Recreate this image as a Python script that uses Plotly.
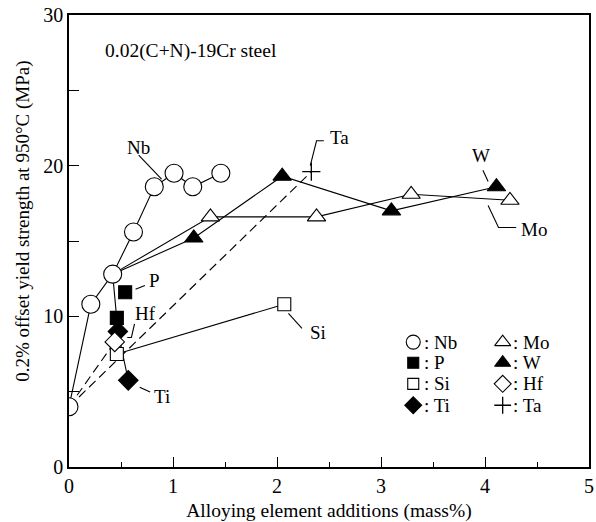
import plotly.graph_objects as go

# ---- data ----
nb_x = [0.0, 0.21, 0.42, 0.62, 0.82, 1.01, 1.19, 1.46]
nb_y = [4.0, 10.8, 12.8, 15.6, 18.6, 19.5, 18.6, 19.5]

mo_x = [0.42, 1.36, 2.38, 3.29, 4.24]
mo_y = [12.8, 16.6, 16.6, 18.1, 17.7]

w_x = [0.42, 1.20, 2.05, 3.10, 4.11]
w_y = [12.8, 15.2, 19.3, 17.0, 18.6]

p_x = [0.46, 0.54]
p_y = [9.9, 11.6]

ti_x = [0.42, 0.47, 0.57]
ti_y = [12.8, 9.0, 5.75]

si_x = [0.46, 2.07]
si_y = [7.5, 10.8]

hf_x = [0.0, 0.44]
hf_y = [4.0, 8.3]

ta_x = [0.0, 2.33]
ta_y = [4.0, 19.6]

FONT = "Liberation Serif, Times New Roman, serif"
BLACK = "black"

fig = go.Figure()

# connecting lines first
line_sets = [
    (nb_x, nb_y, "solid"),
    (mo_x, mo_y, "solid"),
    (w_x, w_y, "solid"),
    (ti_x, ti_y, "solid"),
    (si_x, si_y, "solid"),
    (hf_x, hf_y, "9px,5px"),
    (ta_x, ta_y, "9px,5px"),
]
for xs, ys, dash in line_sets:
    fig.add_trace(go.Scatter(x=xs, y=ys, mode="lines",
                             line=dict(color=BLACK, width=1.1, dash=dash),
                             hoverinfo="skip", showlegend=False))

def mk(symbol, size, fill):
    return dict(symbol=symbol, size=size, color=fill,
                line=dict(color=BLACK, width=1.1))

marker_sets = [
    (si_x, si_y, mk("square", 13, "white")),
    (ti_x[1:], ti_y[1:], mk("diamond", 15, BLACK)),
    (hf_x[1:], hf_y[1:], mk("diamond", 15, "white")),
    (p_x, p_y, mk("square", 13, BLACK)),
    (mo_x[1:], mo_y[1:], mk("triangle-up", 16, "white")),
    (w_x[1:], w_y[1:], mk("triangle-up", 16, BLACK)),
    (nb_x, nb_y, mk("circle", 18, "white")),
    (ta_x[1:], ta_y[1:], dict(symbol="cross-thin-open", size=13, color=BLACK,
                              line=dict(color=BLACK, width=1.3))),
]
for xs, ys, m in marker_sets:
    fig.add_trace(go.Scatter(x=xs, y=ys, mode="markers", marker=m,
                             hoverinfo="skip", showlegend=False))

# hand-drawn style legend
legend_items = [
    ("circle", "white", "Nb", 0), ("square", BLACK, "P", 1),
    ("square", "white", "Si", 2), ("diamond", BLACK, "Ti", 3),
    ("triangle-up", "white", "Mo", 4), ("triangle-up", BLACK, "W", 5),
    ("diamond", "white", "Hf", 6), ("cross-thin-open", BLACK, "Ta", 7),
]
leg_cols = [3.31, 4.17]
leg_rows = [8.29, 6.92, 5.52, 4.10]
sizes = {"circle": 14, "square": 11, "diamond": 13, "triangle-up": 14, "cross-thin-open": 12}
annotations = []
for sym, fill, name, i in legend_items:
    cx = leg_cols[i // 4]
    cy = leg_rows[i % 4]
    fig.add_trace(go.Scatter(x=[cx], y=[cy], mode="markers",
                             marker=dict(symbol=sym, size=sizes[sym], color=fill,
                                         line=dict(color=BLACK, width=1.3 if sym.startswith("cross") else 1.1)),
                             hoverinfo="skip", showlegend=False))
    annotations.append(dict(x=cx + 0.08, y=cy, xref="x", yref="y", text=": " + name,
                            showarrow=False, xanchor="left", yanchor="middle",
                            font=dict(family=FONT, size=19, color=BLACK)))

# curve labels
labels = [
    ("Nb", 0.54, 21.2), ("Ta", 2.49, 21.9), ("W", 3.86, 20.7), ("Mo", 4.33, 15.75),
    ("Si", 2.30, 8.95), ("P", 0.75, 12.4), ("Hf", 0.62, 10.2), ("Ti", 0.795, 4.65),
]
for t, x, y in labels:
    annotations.append(dict(x=x, y=y, xref="x", yref="y", text=t, showarrow=False,
                            xanchor="left", yanchor="middle",
                            font=dict(family=FONT, size=19, color=BLACK)))
annotations.append(dict(x=0.33, y=27.6, xref="x", yref="y", text="0.02(C+N)-19Cr steel",
                        showarrow=False, xanchor="left", yanchor="middle",
                        font=dict(family=FONT, size=19.5, color=BLACK)))
annotations.append(dict(x=-0.09, y=0.543, xref="paper", yref="paper",
                        text="0.2% offset yield strength at 950°C (MPa)", textangle=-90,
                        showarrow=False, xanchor="center", yanchor="middle",
                        font=dict(family=FONT, size=19, color=BLACK)))

connectors = [
    [(0.67, 20.7), (0.89, 19.1)],
    [(2.45, 21.65), (2.38, 21.65), (2.32, 20.0)],
    [(3.98, 19.7), (4.03, 18.95)],
    [(4.30, 15.9), (4.13, 15.9), (4.03, 17.35)],
    [(2.24, 9.2), (2.11, 10.2)],
    [(0.73, 12.05), (0.64, 11.8)],
    [(0.78, 4.97), (0.68, 5.3)],
    [(0.63, 9.5), (0.60, 8.6), (0.56, 8.6)],
]
shapes = []
for pts in connectors:
    path = "M " + " L ".join(f"{x},{y}" for x, y in pts)
    shapes.append(dict(type="path", path=path, xref="x", yref="y",
                       line=dict(color=BLACK, width=1.1)))

fig.update_layout(
    width=596, height=522,
    margin=dict(l=69, r=7, t=15, b=55, autoexpand=False),
    paper_bgcolor="white", plot_bgcolor="white",
    font=dict(family=FONT, size=20, color=BLACK),
    annotations=annotations, shapes=shapes,
    showlegend=False,
)
fig.update_xaxes(range=[0, 5], dtick=1, tick0=0, ticks="inside", ticklen=10, tickwidth=1.2,
                 tickcolor=BLACK, minor=dict(dtick=0.5, ticklen=5, ticks="inside", tickcolor=BLACK,
                                             tickwidth=1.2),
                 showline=True, linecolor=BLACK, linewidth=1.6, mirror=True,
                 showgrid=False, zeroline=False, automargin=False,
                 title=dict(text="Alloying element additions (mass%)", standoff=10,
                            font=dict(family=FONT, size=19.5)),
                 tickfont=dict(family=FONT, size=20))
fig.update_yaxes(range=[0, 30], dtick=10, tick0=0, ticks="inside", ticklen=10, tickwidth=1.2,
                 tickcolor=BLACK, minor=dict(dtick=5, ticklen=10, ticks="inside", tickcolor=BLACK,
                                             tickwidth=1.2),
                 showline=True, linecolor=BLACK, linewidth=1.6, mirror=True,
                 showgrid=False, zeroline=False, automargin=False,
                 tickfont=dict(family=FONT, size=20))

fig.write_html("out.html")
